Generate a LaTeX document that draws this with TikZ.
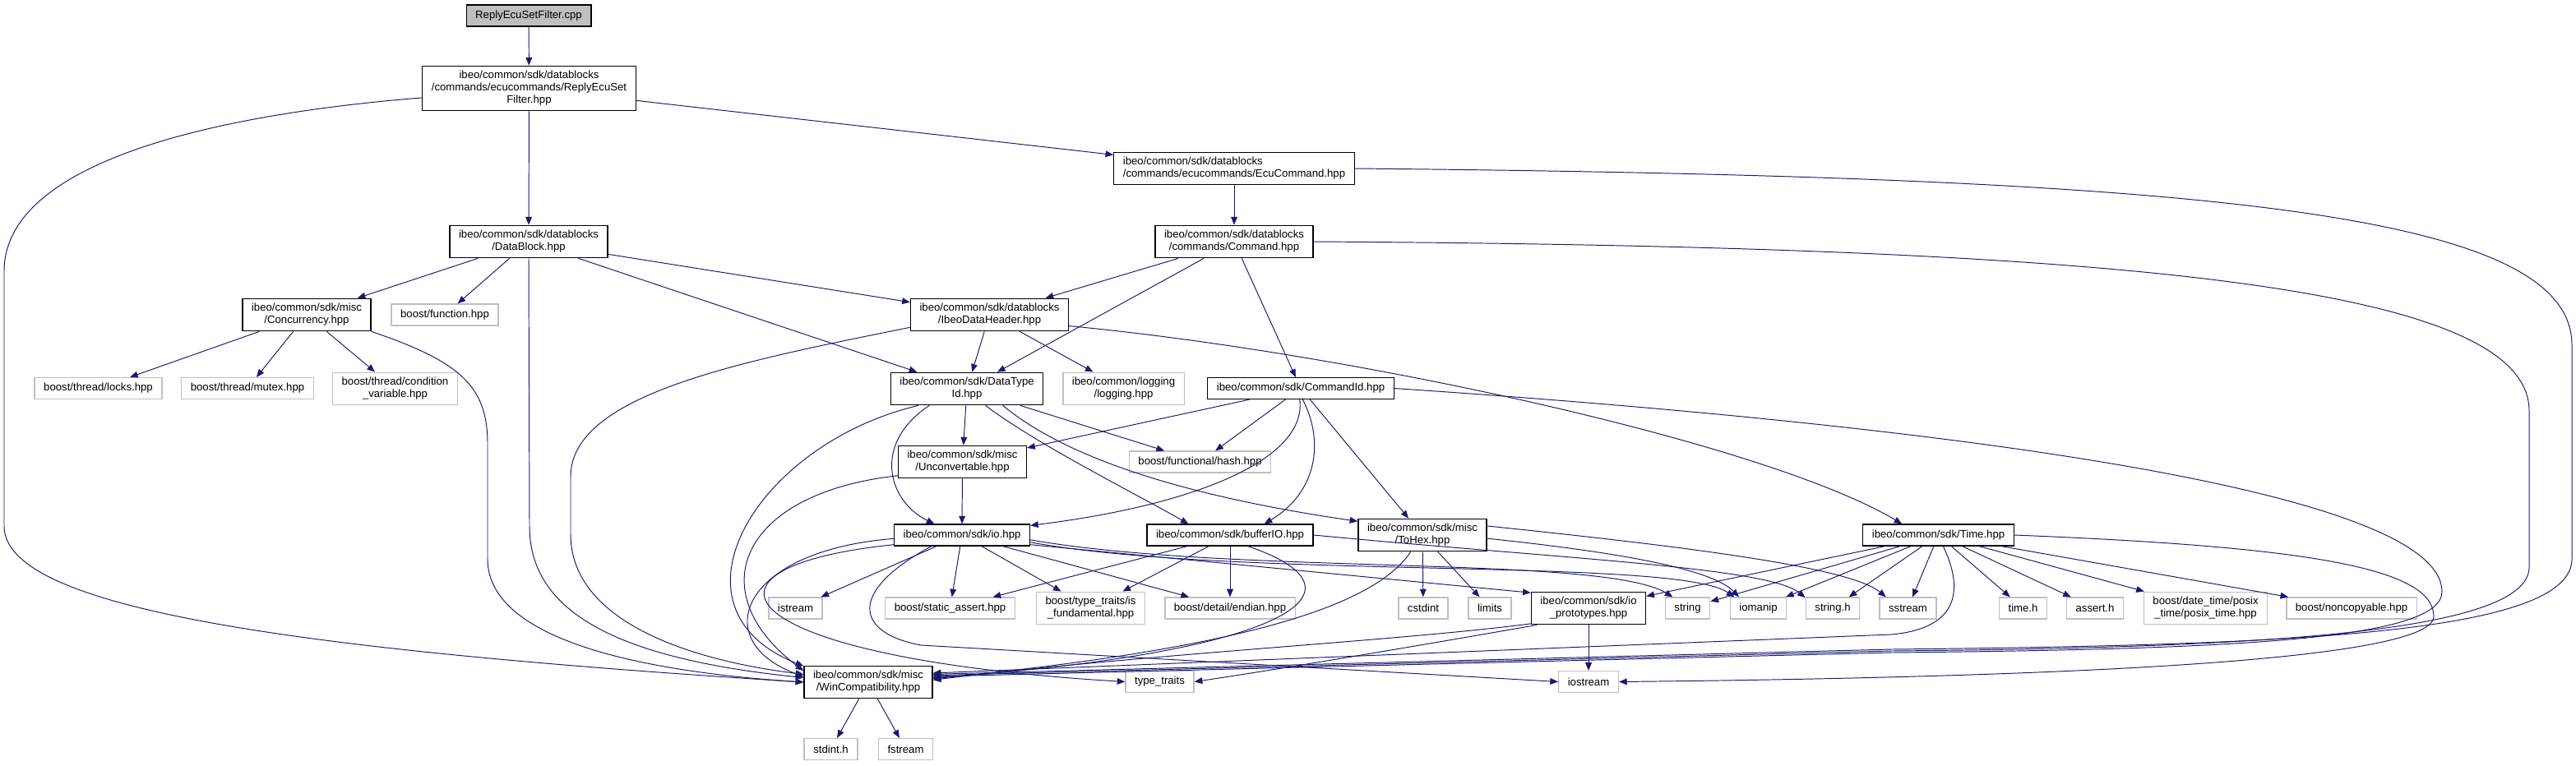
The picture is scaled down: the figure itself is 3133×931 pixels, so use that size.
\documentclass[tikz,border=0pt]{standalone}
\usepackage{fontspec}
\setmainfont{Liberation Sans}
\usetikzlibrary{arrows.meta}
\definecolor{dxEdge}{RGB}{25,25,112}
\definecolor{dxGray}{RGB}{191,191,191}

\begin{document}
\begin{tikzpicture}[
  x=0.02cm, y=-0.02cm,
  every node/.style={font=\fontsize{7.5}{8.5}\selectfont, inner xsep=6.3pt, inner ysep=3.5pt, minimum height=14.7pt, align=center},
  hdr/.style={draw=black, line width=0.7pt, fill=white},
  sys/.style={draw=dxGray, line width=0.8pt, fill=white},
  root/.style={draw=black, line width=0.7pt, fill=dxGray},
  arrow/.style={-{Triangle[length=5.5pt,width=4.4pt]}, dxEdge, line width=0.55pt}
]
\useasboundingbox (0,0) rectangle (3133,931);

% The file and its own header
\node[root] (cpp) at (643,19) {ReplyEcuSetFilter.cpp};
\node[hdr] (reply) at (643.5,107.5) {ibeo/common/sdk/datablocks\hfill\\/commands/ecucommands/ReplyEcuSet\\Filter.hpp};

% Second and third level
\node[hdr, align=left] (ecuCmd) at (1501,205) {ibeo/common/sdk/datablocks\\/commands/ecucommands/EcuCommand.hpp};
\node[hdr] (dataBlock) at (643,294) {ibeo/common/sdk/datablocks\\/DataBlock.hpp};
\node[hdr] (command) at (1501,294) {ibeo/common/sdk/datablocks\\/commands/Command.hpp};
\node[hdr] (concur) at (373,383) {ibeo/common/sdk/misc\\/Concurrency.hpp};
\node[sys] (function) at (541,383) {boost/function.hpp};
\node[hdr] (header) at (1203.5,383) {ibeo/common/sdk/datablocks\\/IbeoDataHeader.hpp};

\node[sys] (locks) at (119.5,472.5) {boost/thread/locks.hpp};
\node[sys] (mutex) at (301,472.5) {boost/thread/mutex.hpp};
\node[sys] (condVar) at (480.5,473) {boost/thread/condition\\\_variable.hpp};
\node[hdr] (dataType) at (1176,473) {ibeo/common/sdk/DataType\\Id.hpp};
\node[sys] (logging) at (1366.5,473) {ibeo/common/logging\\/logging.hpp};
\node[hdr] (cmdId) at (1582,472.5) {ibeo/common/sdk/CommandId.hpp};

\node[hdr] (uncon) at (1170.5,562) {ibeo/common/sdk/misc\\/Unconvertable.hpp};
\node[sys] (hash) at (1459.5,562) {boost/functional/hash.hpp};

\node[hdr] (io) at (1170,651) {ibeo/common/sdk/io.hpp};
\node[hdr] (bufIO) at (1496,651) {ibeo/common/sdk/bufferIO.hpp};
\node[hdr] (toHex) at (1730,651) {ibeo/common/sdk/misc\\/ToHex.hpp};
\node[hdr] (time) at (2357.5,651) {ibeo/common/sdk/Time.hpp};

% System headers row
\node[sys] (istream) at (967.5,740) {istream};
\node[sys] (sAssert) at (1155.5,740) {boost/static\_assert.hpp};
\node[sys] (isFund) at (1326.5,740) {boost/type\_traits/is\\\_fundamental.hpp};
\node[sys] (endian) at (1496,740) {boost/detail/endian.hpp};
\node[sys] (cstdint) at (1731,740) {cstdint};
\node[sys] (limits) at (1812,740) {limits};
\node[hdr] (ioProto) at (1932,740) {ibeo/common/sdk/io\\\_prototypes.hpp};
\node[sys] (string) at (2052.5,740) {string};
\node[sys] (iomanip) at (2138.5,740) {iomanip};
\node[sys] (stringH) at (2229,740) {string.h};
\node[sys] (sstream) at (2320.5,740) {sstream};
\node[sys] (timeH) at (2460.5,740) {time.h};
\node[sys] (assertH) at (2548,740) {assert.h};
\node[sys] (posix) at (2682.5,740) {boost/date\_time/posix\\\_time/posix\_time.hpp};
\node[sys] (noncopy) at (2860,740) {boost/noncopyable.hpp};

% Bottom
\node[hdr] (winCompat) at (1056,830) {ibeo/common/sdk/misc\\/WinCompatibility.hpp};
\node[sys] (typeTraits) at (1410.5,829.5) {type\_traits};
\node[sys] (iostream) at (1932,829.5) {iostream};
\node[sys] (stdint) at (1010.5,911.5) {stdint.h};
\node[sys] (fstream) at (1101.5,911.5) {fstream};

% Arrows - top
\draw[arrow] (cpp) -- (reply);
\draw[arrow] (reply) -- (dataBlock);
\draw[arrow] (reply) -- (ecuCmd);
\draw[arrow] (reply.185) .. controls (250,140) and (5,200) .. (5,330) -- (5,640) .. controls (5,740) and (350,790) .. (winCompat.west);
\draw[arrow] (ecuCmd) -- (command);
\draw[arrow] (ecuCmd.east) .. controls (2700,215) and (3128,260) .. (3128,420) -- (3128,680) .. controls (3128,770) and (2800,785) .. (2300,790) -- (winCompat.7);

% Arrows - DataBlock
\draw[arrow] (dataBlock) -- (concur);
\draw[arrow] (dataBlock) -- (function);
\draw[arrow] (dataBlock) -- (header);
\draw[arrow] (dataBlock) -- (dataType);
\draw[arrow] (dataBlock.south) -- (644,640) .. controls (644,740) and (740,800) .. (winCompat.176);
\draw[arrow] (concur) -- (locks);
\draw[arrow] (concur) -- (mutex);
\draw[arrow] (concur) -- (condVar);
\draw[arrow] (concur.south east) .. controls (560,440) and (593,470) .. (593,540) -- (593,680) .. controls (593,770) and (750,815) .. (winCompat.180);

% Arrows - Command
\draw[arrow] (command) -- (header);
\draw[arrow] (command) -- (dataType);
\draw[arrow] (command) -- (cmdId);
\draw[arrow] (command.east) .. controls (2600,300) and (3076,350) .. (3076,500) -- (3076,690) .. controls (3076,770) and (2750,788) .. (2300,792) -- (winCompat.6);

% Arrows - IbeoDataHeader
\draw[arrow] (header) -- (dataType);
\draw[arrow] (header) -- (logging);
\draw[arrow] (header.-8) .. controls (1650,430) and (2150,540) .. (time.163);
\draw[arrow] (header.189) .. controls (900,440) and (694,480) .. (694,580) -- (694,650) .. controls (694,760) and (850,805) .. (winCompat.173);

% Arrows - DataTypeId
\draw[arrow] (dataType) -- (uncon);
\draw[arrow] (dataType) -- (hash);
\draw[arrow] (dataType.-156) .. controls (1060,540) and (1080,610) .. (io.158);
\draw[arrow] (dataType.199) .. controls (920,540) and (800,740) .. (winCompat.166);
\draw[arrow] (dataType.-42) .. controls (1260,540) and (1380,600) .. (bufIO.165);
\draw[arrow] (dataType.-25) .. controls (1300,560) and (1450,605) .. (toHex.168);

% Arrows - CommandId
\draw[arrow] (cmdId) -- (uncon);
\draw[arrow] (cmdId) -- (hash);
\draw[arrow] (cmdId) -- (toHex);
\draw[arrow] (cmdId.-95) .. controls (1590,560) and (1450,615) .. (io.8);
\draw[arrow] (cmdId.-80) .. controls (1612,540) and (1600,600) .. (bufIO.18);
\draw[arrow] (cmdId.east) .. controls (2400,520) and (2970,600) .. (2970,720) .. controls (2970,780) and (2700,790) .. (2300,794) -- (winCompat.5);

% Arrows - Unconvertable and io
\draw[arrow] (uncon) -- (io);
\draw[arrow] (uncon.192) .. controls (900,600) and (850,720) .. (winCompat.170);
\draw[arrow] (io) -- (istream);
\draw[arrow] (io) -- (sAssert);
\draw[arrow] (io) -- (isFund);
\draw[arrow] (io) -- (endian);
\draw[arrow] (io.183) .. controls (900,670) and (860,780) .. (winCompat.175);
\draw[arrow] (io.188) .. controls (820,690) and (880,800) .. (typeTraits.west);
\draw[arrow] (io.200) .. controls (1030,720) and (1040,770) .. (1120,785) -- (iostream.west);
\draw[arrow] (io.-4) .. controls (1500,700) and (1950,675) .. (string.143);
\draw[arrow] (io.-6) .. controls (1500,705) and (2040,678) .. (iomanip.155);
\draw[arrow] (io.-8) -- (ioProto.165);

% Arrows - bufferIO and ToHex
\draw[arrow] (bufIO) -- (sAssert);
\draw[arrow] (bufIO) -- (isFund);
\draw[arrow] (bufIO) -- (endian);
\draw[arrow] (bufIO.-32) .. controls (1680,720) and (1560,795) .. (winCompat.4);
\draw[arrow] (bufIO.east) .. controls (1900,680) and (2150,690) .. (stringH.159);
\draw[arrow] (toHex) -- (cstdint);
\draw[arrow] (toHex) -- (limits);
\draw[arrow] (toHex.235) .. controls (1670,740) and (1500,790) .. (winCompat.3);
\draw[arrow] (toHex.8) .. controls (2050,665) and (2250,690) .. (sstream.153);
\draw[arrow] (toHex.-3) .. controls (1950,670) and (2080,690) .. (iomanip.150);

% Arrows - io_prototypes and Time
\draw[arrow] (ioProto) -- (iostream);
\draw[arrow] (ioProto.195) .. controls (1700,780) and (1400,795) .. (winCompat.2);
\draw[arrow] (ioProto.198) .. controls (1700,790) and (1550,815) .. (typeTraits.east);
\draw[arrow] (time) -- (ioProto);
\draw[arrow] (time) -- (string);
\draw[arrow] (time) -- (iomanip);
\draw[arrow] (time) -- (stringH);
\draw[arrow] (time) -- (sstream);
\draw[arrow] (time) -- (timeH);
\draw[arrow] (time) -- (assertH);
\draw[arrow] (time) -- (posix);
\draw[arrow] (time) -- (noncopy);
\draw[arrow] (time.-67) .. controls (2390,720) and (2380,765) .. (2300,772) -- (winCompat.8);
\draw[arrow] (time.east) .. controls (2800,665) and (2960,690) .. (2960,750) .. controls (2960,810) and (2400,825) .. (iostream.east);

% Arrows - WinCompatibility
\draw[arrow] (winCompat) -- (stdint);
\draw[arrow] (winCompat) -- (fstream);

\end{tikzpicture}
\end{document}
